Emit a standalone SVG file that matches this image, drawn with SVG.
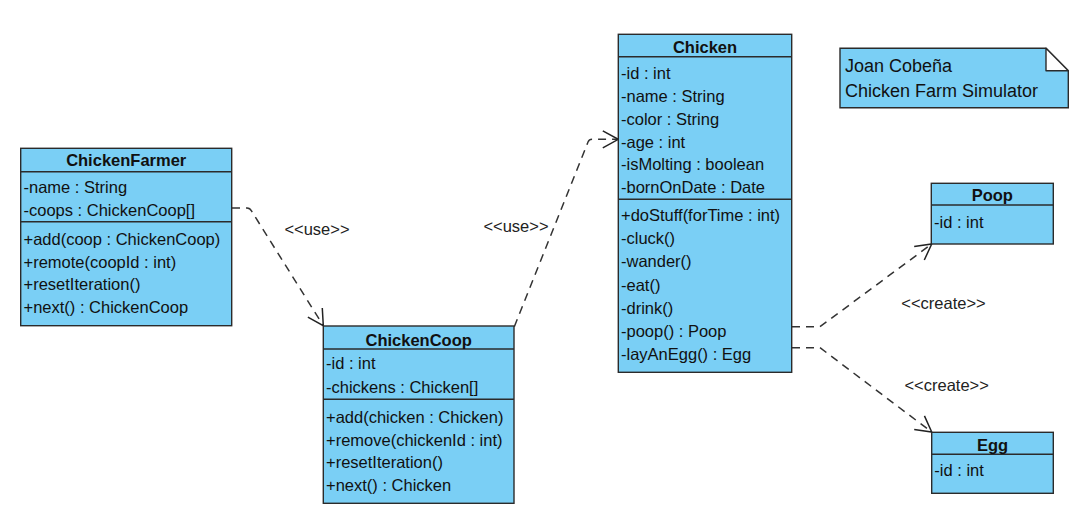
<svg xmlns="http://www.w3.org/2000/svg" width="1087" height="530" viewBox="0 0 1087 530">
<defs>
<style>
.box{fill:#7ACFF5;stroke:#2b2b2b;stroke-width:1.4}
.sep{stroke:#2b2b2b;stroke-width:1.4}
.t{font-family:"Liberation Sans",Arial,sans-serif;font-size:16.5px;fill:#111}
.title{font-family:"Liberation Sans",Arial,sans-serif;font-size:16.5px;font-weight:bold;fill:#111;text-anchor:middle}
.note{font-family:"Liberation Sans",Arial,sans-serif;font-size:18px;fill:#111}
.lbl{font-family:"Liberation Sans",Arial,sans-serif;font-size:16.5px;fill:#222;text-anchor:middle}
.dep{fill:none;stroke:#333;stroke-width:1.5;stroke-dasharray:8 6;marker-end:url(#open)}
</style>
<marker id="open" markerUnits="userSpaceOnUse" markerWidth="24" markerHeight="24" viewBox="-20 -12 24 24" refX="0" refY="0" orient="auto">
<path d="M-15.5,-8.5 L0,0 L-15.5,8.5" fill="none" stroke="#222" stroke-width="1.5"/>
</marker>
</defs>

<g id="connectors">
<path class="dep" d="M232,208 H247 Q250,208 251.5,211 L323.3,325.7"/>
<path class="dep" d="M514.3,326.7 L588,142 Q589.2,139.3 592,139.3 L618.3,139.3"/>
<path class="dep" d="M792,326.7 H820 L931.7,244"/>
<path class="dep" d="M792,347.7 H820 L931.7,432"/>
<text class="lbl" x="317" y="235">&lt;&lt;use&gt;&gt;</text>
<text class="lbl" x="516" y="232">&lt;&lt;use&gt;&gt;</text>
<text class="lbl" x="943.5" y="309">&lt;&lt;create&gt;&gt;</text>
<text class="lbl" x="946.7" y="391">&lt;&lt;create&gt;&gt;</text>
</g>

<g id="ChickenFarmer">
<rect class="box" x="20.7" y="148.3" width="211" height="177.4"/>
<line class="sep" x1="20.7" y1="171.7" x2="231.7" y2="171.7"/>
<line class="sep" x1="20.7" y1="221.7" x2="231.7" y2="221.7"/>
<text class="title" x="126.2" y="166">ChickenFarmer</text>
<text class="t" x="23.5" y="192.5">-name : String</text>
<text class="t" x="23.5" y="215.5">-coops : ChickenCoop[]</text>
<text class="t" x="23.5" y="245">+add(coop : ChickenCoop)</text>
<text class="t" x="23.5" y="267.7">+remote(coopId : int)</text>
<text class="t" x="23.5" y="290.4">+resetIteration()</text>
<text class="t" x="23.5" y="313">+next() : ChickenCoop</text>
</g>

<g id="ChickenCoop">
<rect class="box" x="323.3" y="326" width="190.7" height="177.3"/>
<line class="sep" x1="323.3" y1="349" x2="514" y2="349"/>
<line class="sep" x1="323.3" y1="399.3" x2="514" y2="399.3"/>
<text class="title" x="418.7" y="346">ChickenCoop</text>
<text class="t" x="326" y="369.3">-id : int</text>
<text class="t" x="326" y="393">-chickens : Chicken[]</text>
<text class="t" x="326" y="422.7">+add(chicken : Chicken)</text>
<text class="t" x="326" y="445.5">+remove(chickenId : int)</text>
<text class="t" x="326" y="468.3">+resetIteration()</text>
<text class="t" x="326" y="491">+next() : Chicken</text>
</g>

<g id="Chicken">
<rect class="box" x="618.3" y="34.3" width="173.4" height="338"/>
<line class="sep" x1="618.3" y1="56.7" x2="791.7" y2="56.7"/>
<line class="sep" x1="618.3" y1="199.3" x2="791.7" y2="199.3"/>
<text class="title" x="705" y="53.3">Chicken</text>
<text class="t" x="621" y="78.7">-id : int</text>
<text class="t" x="621" y="101.7">-name : String</text>
<text class="t" x="621" y="124.5">-color : String</text>
<text class="t" x="621" y="147.5">-age : int</text>
<text class="t" x="621" y="170.3">-isMolting : boolean</text>
<text class="t" x="621" y="193.3">-bornOnDate : Date</text>
<text class="t" x="621" y="221.3">+doStuff(forTime : int)</text>
<text class="t" x="621" y="244.3">-cluck()</text>
<text class="t" x="621" y="267.4">-wander()</text>
<text class="t" x="621" y="290.5">-eat()</text>
<text class="t" x="621" y="313.6">-drink()</text>
<text class="t" x="621" y="336.7">-poop() : Poop</text>
<text class="t" x="621" y="359.8">-layAnEgg() : Egg</text>
</g>

<g id="Poop">
<rect class="box" x="931.3" y="183.3" width="122" height="60.7"/>
<line class="sep" x1="931.3" y1="205" x2="1053.3" y2="205"/>
<text class="title" x="992.3" y="201">Poop</text>
<text class="t" x="934" y="227.7">-id : int</text>
</g>

<g id="Egg">
<rect class="box" x="931.7" y="432.3" width="121.6" height="61"/>
<line class="sep" x1="931.7" y1="454.3" x2="1053.3" y2="454.3"/>
<text class="title" x="992.5" y="451">Egg</text>
<text class="t" x="934.3" y="476">-id : int</text>
</g>

<g id="Note">
<path class="box" d="M840,48.3 H1046 L1068.3,70.7 V107.7 H840 Z"/>
<path d="M1046,48.3 V70.7 H1068.3 Z" fill="#ffffff" stroke="#2b2b2b" stroke-width="1.4" stroke-linejoin="round"/>
<text class="note" x="845" y="71.5">Joan Cobeña</text>
<text class="note" x="845" y="96.5">Chicken Farm Simulator</text>
</g>
</svg>
